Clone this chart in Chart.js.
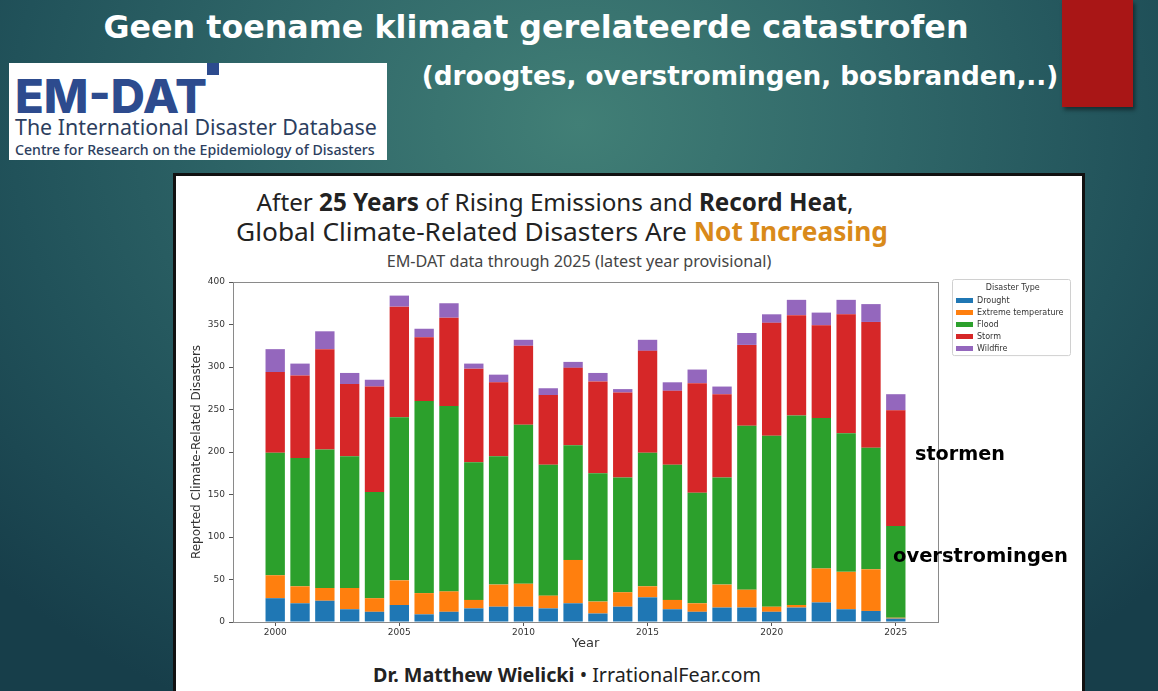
<!DOCTYPE html>
<html lang="nl">
<head>
<meta charset="utf-8">
<title>Geen toename klimaat gerelateerde catastrofen</title>
<script src="https://cdn.jsdelivr.net/npm/chart.js@4.4.0/dist/chart.umd.min.js"></script>
<style>
  html, body { margin: 0; padding: 0; }
  body {
    width: 1158px; height: 691px; overflow: hidden; position: relative;
    background: radial-gradient(ellipse 70% 95% at 50% 18%, #417f76 0%, #31696a 35%, #21525a 70%, #173e4a 100%);
    font-family: 'DejaVu Sans', sans-serif;
  }
  .txt { position: absolute; white-space: nowrap; line-height: 1; transform: translate(-50%, -50%); }
  .txt.left { transform: translateY(-50%); }
  #redBlock {
    position: absolute; left: 1062px; top: 0; width: 71px; height: 107px;
    background: #a91616; box-shadow: 2px 3px 4px rgba(0,0,0,0.45);
  }
  #logo { position: absolute; left: 9px; top: 63px; width: 378px; height: 97px; background: #fff; }
  #logoSquare { position: absolute; left: 207px; top: 63px; width: 12px; height: 12px; background: #2d4b8e; }
  #panel {
    position: absolute; left: 173px; top: 173px; width: 912px; height: 530px;
    box-sizing: border-box; background: #fff; border: 3px solid #111;
  }
  #chartWrap { position: absolute; left: 175px; top: 268px; width: 907px; height: 387px; }
  .slide { color: #fff; font-weight: bold; font-family: 'DejaVu Sans', sans-serif; }
  .head { font-family: 'Noto Sans', sans-serif; color: #222; }
  .head b { font-weight: 700; }
  .note { font-weight: bold; color: #000; font-family: 'DejaVu Sans', sans-serif; z-index: 5; }
</style>
</head>
<body>

<div id="redBlock"></div>
<div class="txt slide" data-w="865" style="left:536px; top:28px; font-size:30px;">Geen toename klimaat gerelateerde catastrofen</div>
<div class="txt slide" data-w="637" style="left:740px; top:76px; font-size:23px;">(droogtes, overstromingen, bosbranden,..)</div>

<div id="logo"></div>
<div id="logoSquare"></div>
<div class="txt left" data-w="192" style="left:15px; top:96px; font-size:42px; font-weight:800; color:#2d4b8e; font-family:Inter, sans-serif;">EM-DAT</div>
<div class="txt left" data-w="362" style="left:15px; top:127px; font-size:20px; color:#2c3e5e; font-family:'Noto Sans', sans-serif;">The International Disaster Database</div>
<div class="txt left" data-w="360" style="left:15px; top:150px; font-size:14px; color:#2c3e5e; font-weight:500; font-family:'Noto Sans', sans-serif;">Centre for Research on the Epidemiology of Disasters</div>

<div id="panel"></div>
<div class="txt head" data-w="597" style="left:555px; top:202px; font-size:20px;">After <b>25 Years</b> of Rising Emissions and <b>Record Heat</b>,</div>
<div class="txt head" data-w="652" style="left:562px; top:231px; font-size:22px;">Global Climate-Related Disasters Are <b style="color:#d98a1a">Not Increasing</b></div>
<div class="txt head" data-w="385" style="left:579px; top:261px; font-size:14px; color:#444;">EM-DAT data through 2025 (latest year provisional)</div>
<div class="txt head" data-w="388" style="left:567px; top:675px; font-size:19px;"><b>Dr. Matthew Wielicki</b> • IrrationalFear.com</div>

<div id="chartWrap"><canvas id="chart" width="907" height="387"></canvas></div>

<div class="txt left note" data-w="90" style="left:915px; top:454px; font-size:19px;">stormen</div>
<div class="txt left note" data-w="175" style="left:893px; top:556px; font-size:19px;">overstromingen</div>

<script>
// jaren en aantallen per type ramp
const years = [2000, 2001, 2002, 2003, 2004, 2005, 2006, 2007, 2008, 2009, 2010, 2011, 2012,
               2013, 2014, 2015, 2016, 2017, 2018, 2019, 2020, 2021, 2022, 2023, 2024, 2025];
const drought     = [28, 22, 25, 15, 12, 20,  9, 12, 16, 18, 18, 16, 22, 10, 18, 29, 15, 12, 17, 17, 12, 17, 23, 15, 13,  4];
const extremeTemp = [27, 20, 15, 25, 16, 29, 25, 24, 10, 26, 27, 15, 51, 14, 17, 13, 11, 10, 27, 21,  6,  3, 40, 44, 49,  1];
const flood       = [144, 151, 163, 155, 125, 192, 226, 218, 162, 151, 187, 154, 135, 151, 135, 157, 159, 130, 126, 193, 201, 223, 177, 163, 143, 108];
const storm       = [95, 97, 118, 85, 124, 130, 75, 104, 110, 87, 93, 82, 91, 108, 100, 120, 87, 129, 98, 95, 133, 118, 109, 140, 148, 136];
const wildfire    = [27, 14, 21, 13, 8, 13, 10, 17, 6, 9, 7, 8, 7, 10, 4, 13, 10, 16, 9, 14, 10, 18, 15, 17, 21, 19];

const typeNames = ['Drought', 'Extreme temperature', 'Flood', 'Storm', 'Wildfire'];
const typeColors = ['#1f77b4', '#ff7f0e', '#2ca02c', '#d62728', '#9467bd'];

const xTicks = [2000, 2005, 2010, 2015, 2020, 2025];
const yTicks = [0, 50, 100, 150, 200, 250, 300, 350, 400];

// tekst op gewenste breedte brengen
function fitText(el) {
    const target = parseFloat(el.dataset.w);
    const size = parseFloat(getComputedStyle(el).fontSize);
    const width = el.getBoundingClientRect().width;
    if (width > 0) {
        el.style.fontSize = (size * target / width).toFixed(2) + 'px';
    }
}
document.querySelectorAll('[data-w]').forEach(fitText);

// kader rond plot en legenda
const framePlugin = {
    id: 'frame',
    afterDraw(chart) {
        const ctx = chart.ctx;
        const a = chart.chartArea;
        ctx.save();
        ctx.strokeStyle = '#8a8a8a';
        ctx.lineWidth = 1;
        ctx.strokeRect(Math.round(a.left) + 0.5, Math.round(a.top) + 0.5,
                       Math.round(a.right - a.left), Math.round(a.bottom - a.top));

        const lg = chart.legend;
        if (lg && lg.legendHitBoxes && lg.legendHitBoxes.length) {
            const boxes = lg.legendHitBoxes;
            const last = boxes[boxes.length - 1];
            const left = lg.left + 0.5;
            const top = a.top - 2.5;
            const right = lg.left + lg.width - 3;
            const bottom = last.top + last.height + 3;
            ctx.strokeStyle = '#d0d0d0';
            ctx.beginPath();
            ctx.roundRect(left, top, right - left, bottom - top, 2);
            ctx.stroke();
        }
        ctx.restore();
    }
};

function makeDataset(i, values) {
    return {
        label: typeNames[i],
        data: values,
        backgroundColor: typeColors[i],
        borderWidth: 0,
        barPercentage: 0.78,
        categoryPercentage: 1.0
    };
}

const tickFont = { family: 'DejaVu Sans', size: 9 };

new Chart(document.getElementById('chart'), {
    type: 'bar',
    data: {
        labels: years,
        datasets: [
            makeDataset(0, drought),
            makeDataset(1, extremeTemp),
            makeDataset(2, flood),
            makeDataset(3, storm),
            makeDataset(4, wildfire)
        ]
    },
    options: {
        responsive: false,
        animation: false,
        layout: { padding: { top: 14, right: 8.5, bottom: 0, left: 0 } },
        plugins: {
            tooltip: { enabled: false },
            legend: {
                position: 'right',
                align: 'start',
                title: {
                    display: true,
                    text: 'Disaster Type',
                    color: '#333',
                    font: { family: 'DejaVu Sans', size: 8 },
                    padding: { top: 2, bottom: -1 }
                },
                labels: {
                    boxWidth: 17,
                    boxHeight: 5,
                    padding: 4,
                    color: '#333',
                    font: { family: 'DejaVu Sans', size: 8 }
                }
            }
        },
        scales: {
            x: {
                type: 'linear',
                stacked: true,
                offset: false,
                min: 1998.3,
                max: 2026.7,
                afterBuildTicks: s => { s.ticks = xTicks.map(v => ({ value: v })); },
                afterFit: s => { s.height = 33; },
                ticks: { font: tickFont, color: '#333', padding: 1, callback: v => String(v) },
                grid: { offset: false, drawOnChartArea: false, tickLength: 4, color: '#555' },
                border: { display: false },
                title: {
                    display: true, text: 'Year', color: '#333',
                    font: { family: 'DejaVu Sans', size: 13 },
                    padding: { top: 0, bottom: 4 }
                }
            },
            y: {
                stacked: true,
                min: 0,
                max: 400,
                afterBuildTicks: s => { s.ticks = yTicks.map(v => ({ value: v })); },
                afterFit: s => { s.width = 58; },
                ticks: { font: tickFont, color: '#333', padding: 4 },
                grid: { drawOnChartArea: false, tickLength: 4, color: '#555' },
                border: { display: false },
                title: {
                    display: true, text: 'Reported Climate-Related Disasters', color: '#333',
                    font: { family: 'DejaVu Sans', size: 12 },
                    padding: { top: 15, bottom: 0 }
                }
            },
            // lege ruimte tussen plot en legenda
            gap: {
                type: 'linear',
                position: 'right',
                display: true,
                afterFit: s => { s.width = 14; },
                ticks: { display: false },
                grid: { display: false },
                border: { display: false }
            }
        }
    },
    plugins: [framePlugin]
});
</script>
</body>
</html>
